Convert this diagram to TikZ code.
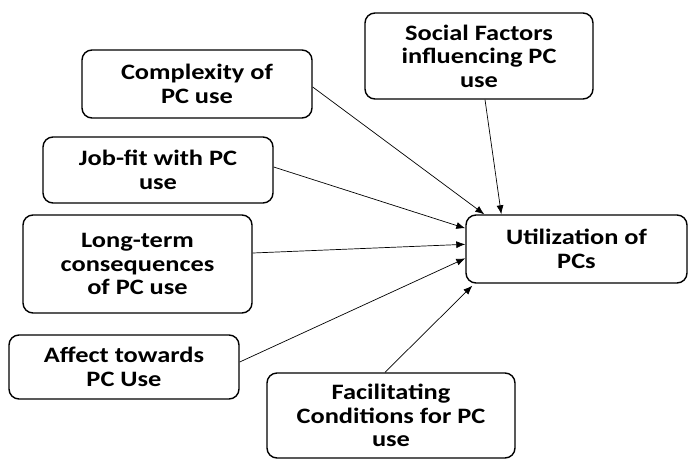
\documentclass[tikz,border=0pt]{standalone}
\usepackage{fontspec}
\setmainfont{Carlito}[FakeStretch=1.2]
\usetikzlibrary{arrows.meta,calc}
\begin{document}
\begin{tikzpicture}[x=1pt,y=-1pt,
  factor/.style={draw, line width=1.4pt, rounded corners=10pt, align=center,
    inner sep=0pt, font=\fontsize{22}{23.5}\selectfont\bfseries},
  link/.style={draw, line width=0.7pt, -{Latex[length=9pt,width=7pt]}}]
\useasboundingbox (0,0) rectangle (689,459);
% construct boxes
\node[factor, minimum width=228pt, minimum height=86pt] (soc) at (479,56)
  {Social Factors\\influencing PC\\use};
\node[factor, minimum width=230pt, minimum height=68pt] (comp) at (197,84)
  {Complexity of\\PC use};
\node[factor, minimum width=230pt, minimum height=66pt] (job) at (158,170)
  {Job-fit with PC\\use};
\node[factor, minimum width=229pt, minimum height=98pt] (lt) at (137.5,264)
  {Long-term\\consequences\\of PC use};
\node[factor, minimum width=230pt, minimum height=64pt] (aff) at (124,367)
  {Affect towards\\PC Use};
\node[factor, minimum width=248pt, minimum height=85pt] (fac) at (391,415.5)
  {Facilitating\\Conditions for PC\\use};
\node[factor, minimum width=221pt, minimum height=68pt] (util) at (576.5,249)
  {Utilization of\\PCs};
% influences on utilization
\draw[link] ($(soc.south)+(6,0)$) -- ($(util.north west)+(36,0)$);
\draw[link] ($(comp.east)+(0,3)$) -- ($(util.north west)+(19,0)$);
\draw[link] ($(job.east)+(0,-3)$) -- ($(util.north west)+(0,14)$);
\draw[link] ($(lt.east)+(0,-11)$) -- ($(util.north west)+(0,30)$);
\draw[link] ($(aff.east)+(0,-5)$) -- ($(util.north west)+(0,44)$);
\draw[link] ($(fac.north)+(-6,0)$) -- ($(util.south west)+(7,2)$);
\end{tikzpicture}
\end{document}
